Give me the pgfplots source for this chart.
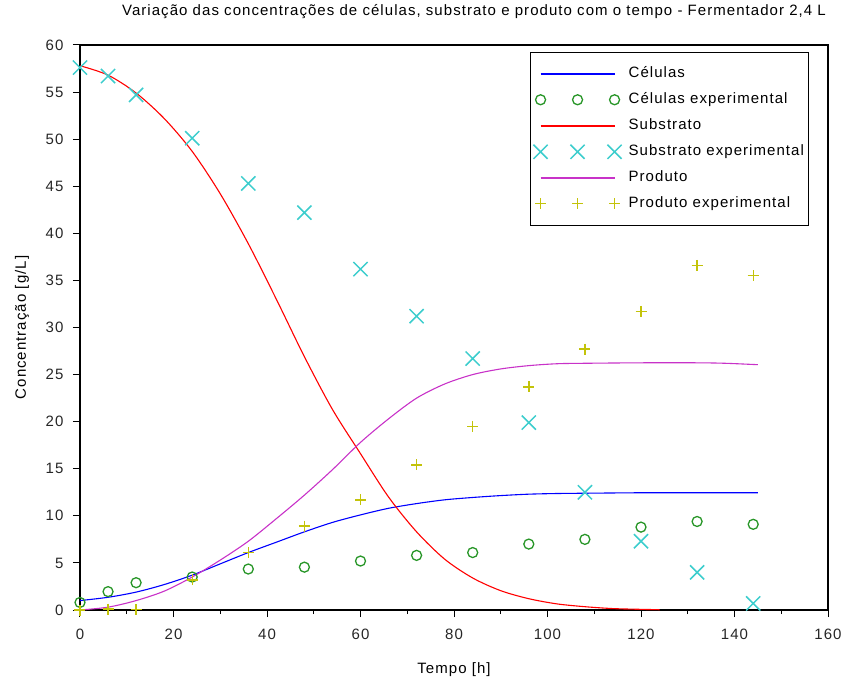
\documentclass[border=0pt]{standalone}
\usepackage{pgfplots}
\pgfplotsset{compat=1.18}
\usepackage{fontspec}
\setmainfont{Liberation Sans}[LetterSpace=7]
\definecolor{cgreen}{RGB}{40,150,40}
\definecolor{ccyan}{RGB}{60,205,205}
\definecolor{cyell}{RGB}{195,195,10}
\definecolor{cmag}{RGB}{200,50,200}
\pgfplotsset{
  legline/.style={legend image code/.code={\draw[##1, line width=1.6pt] (0pt,0pt) -- (74pt,0pt);}},
  legmarks/.style={legend image code/.code={\draw[##1] plot coordinates {(0pt,0pt) (37pt,0pt) (74pt,0pt)};}},
}
\begin{document}
\begin{tikzpicture}
\path[use as bounding box] (-80pt,-69pt) rectangle (765pt,610pt);
\begin{axis}[
  scale only axis, width=748pt, height=565pt,
  xmin=0, xmax=160, ymin=0, ymax=60,
  xtick={0,20,...,160}, ytick={0,5,...,60},
  minor x tick num=1,
  tick align=outside, tick pos=left,
  major tick length=7pt, minor tick length=4pt,
  axis line style={line width=1.2pt},
  every tick/.style={black, line width=1pt},
  /pgf/number format/assume math mode=true,
  ticklabel style={font=\fontsize{15}{17}\selectfont, text=black!85},
  xticklabel style={yshift=-8pt},
  yticklabel style={xshift=-6pt},
  title={Variação das concentrações de células, substrato e produto com o tempo - Fermentador 2,4 L},
  title style={font=\fontsize{15}{17}\selectfont, at={(axis description cs:0.5,1)}, anchor=center, yshift=27pt, xshift=20pt},
  xlabel={Tempo [h]},
  xlabel style={font=\fontsize{15}{17}\selectfont, at={(axis description cs:0.5,0)}, anchor=center, yshift=-60pt},
  ylabel={Concentração [g/L]},
  ylabel style={font=\fontsize{15}{17}\selectfont, at={(axis description cs:-0.0775,0.5)}, anchor=center},
  legend cell align=left,
  legend style={at={(axis description cs:0.6016,0.988)}, anchor=north west,
    draw=black, line width=1pt, inner xsep=3pt, inner ysep=12pt,
    font=\fontsize{15}{17}\selectfont, column sep=5pt, row sep=7pt,
    nodes={text height=11pt, text depth=4pt, inner sep=2pt}},
]
% Celulas model
\addplot[blue, line width=1.1pt, smooth, legline] coordinates {
(0,1.0) (6,1.35) (12,1.9) (18,2.7) (24,3.7) (30,4.9) (36,6.1) (42,7.2) (48,8.3) (54,9.3) (60,10.1) (66,10.8) (72,11.3) (78,11.7) (84,11.95) (90,12.15) (96,12.3) (102,12.37) (108,12.4) (120,12.45) (132,12.45) (145,12.45)};
\addlegendentry{Células}
\addplot[cgreen, only marks, mark=o, mark size=5pt, line width=1.3pt, legmarks] coordinates {
(0,0.8) (6,1.95) (12,2.9) (24,3.5) (36,4.35) (48,4.55) (60,5.2) (72,5.8) (84,6.1) (96,7.0) (108,7.5) (120,8.8) (132,9.4) (144,9.1)};
\addlegendentry{Células experimental}
% Substrato model
\addplot[red, line width=1.1pt, smooth, legline] coordinates {
(0,57.8) (6,56.8) (12,54.9) (18,52.2) (24,48.7) (30,44.2) (36,38.9) (42,33.0) (48,26.9) (54,21.3) (60,16.6) (66,12.0) (72,8.3) (78,5.4) (84,3.4) (90,2.05) (96,1.2) (102,0.65) (108,0.35) (114,0.15) (120,0.07) (124,0.03)};
\addlegendentry{Substrato}
\addplot[ccyan, only marks, mark=x, mark size=10pt, line width=1.5pt, legmarks] coordinates {
(0,57.6) (6,56.7) (12,54.7) (24,50.1) (36,45.3) (48,42.2) (60,36.2) (72,31.2) (84,26.7) (96,19.9) (108,12.5) (120,7.3) (132,4.0) (144,0.7)};
\addlegendentry{Substrato experimental}
% Produto model
\addplot[cmag, line width=1.1pt, smooth, legline] coordinates {
(0,0) (6,0.3) (12,1.0) (18,2.0) (24,3.5) (30,5.3) (36,7.3) (42,9.7) (48,12.2) (54,14.9) (60,17.8) (66,20.3) (72,22.5) (78,24.0) (84,25.0) (90,25.6) (96,25.95) (102,26.15) (108,26.2) (120,26.25) (132,26.25) (138,26.2) (145,26.05)};
\addlegendentry{Produto}
\addplot[cyell, only marks, mark=+, mark size=5.5pt, line width=1.4pt, legmarks] coordinates {
(0,0) (6,0.1) (12,0.05) (24,3.2) (36,6.1) (48,8.9) (60,11.7) (72,15.4) (84,19.5) (96,23.7) (108,27.7) (120,31.7) (132,36.6) (144,35.5)};
\addlegendentry{Produto experimental}
\end{axis}
\end{tikzpicture}
\end{document}
